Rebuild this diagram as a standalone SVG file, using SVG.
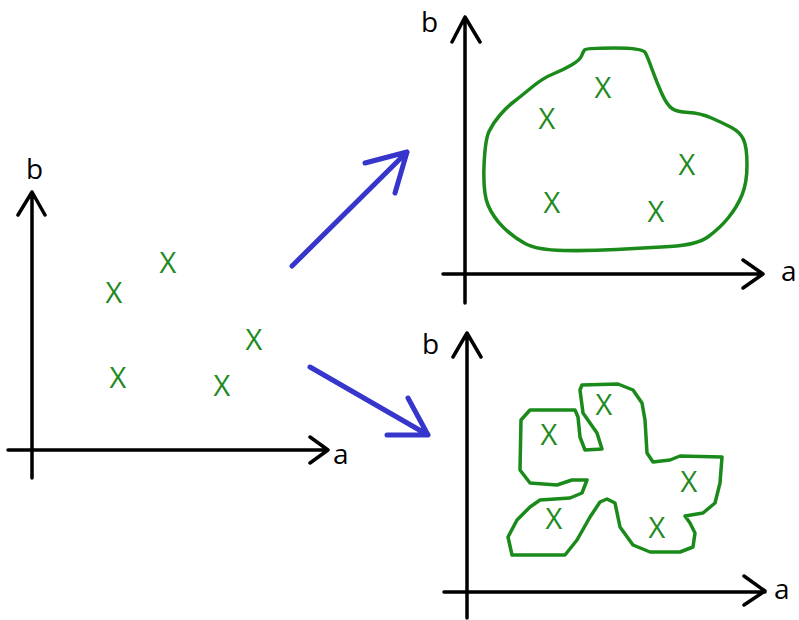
<svg xmlns="http://www.w3.org/2000/svg" width="799" height="620" viewBox="0 0 799 620">
<style>
.ax{fill:none;stroke:#000;stroke-width:3.5;stroke-linecap:round;stroke-linejoin:round}
.lbl{font-family:"Open Sans","Liberation Sans",sans-serif;font-size:28px;fill:#000}
.x{font-family:"Open Sans","Liberation Sans",sans-serif;font-size:29px;fill:#1f8a1f;text-anchor:middle}
.blob{fill:none;stroke:#1a8a1a;stroke-width:3.5;stroke-linejoin:round;stroke-linecap:round}
.arr{fill:none;stroke:#3636cc;stroke-width:5;stroke-linecap:round;stroke-linejoin:round}
</style>
<rect width="799" height="620" fill="#fff"/>
<g id="plot-left">
<path class="ax" d="M32 478V192M18 215L32 192L45 215M8 450H328M310 437L328 450L310 463"/>
<text class="lbl" x="26" y="179">b</text>
<text class="lbl" x="333" y="464">a</text>
<text class="x" x="114" y="303">X</text>
<text class="x" x="168" y="273">X</text>
<text class="x" x="118" y="388">X</text>
<text class="x" x="222" y="396">X</text>
<text class="x" x="254" y="350">X</text>
</g>
<g id="plot-top">
<path class="ax" d="M465 303V17M452 42L465 17L480 42M443 274H763M743 260L763 274L743 288"/>
<text class="lbl" x="421" y="32">b</text>
<text class="lbl" x="781" y="281">a</text>
<path class="blob" d="M584.5 50Q586 48 614.5 48Q643 48 645.5 53Q648 58 652.5 70.5Q657 83 662 94Q667 105 672 108.5Q677 112 688.5 112.5Q700 113 711.5 118Q723 123 731.5 127.5Q740 132 743.5 139.5Q747 147 747 165Q747 183 742 195Q737 207 728.5 217.5Q720 228 708.5 236.5Q697 245 670 246.5Q643 248 616.5 249.5Q590 251 563.5 250.5Q537 250 525 243.5Q513 237 503 227Q493 217 488 205Q483 193 484 166.5Q485 140 489 131.5Q493 123 500 115Q507 107 513.5 102Q520 97 531.5 87.5Q543 78 553 74Q563 70 571.5 65Q580 60 581.5 56Q583 52 584.5 50Z"/>
<text class="x" x="603" y="98">X</text>
<text class="x" x="547" y="129">X</text>
<text class="x" x="687" y="175">X</text>
<text class="x" x="552" y="213">X</text>
<text class="x" x="656" y="222">X</text>
</g>
<g id="plot-bottom">
<path class="ax" d="M467 618V333M453 357L467 333L481 357M444 592H765M744 576L765 591L744 605"/>
<text class="lbl" x="422" y="354">b</text>
<text class="lbl" x="774" y="599">a</text>
<path class="blob" d="M582 385L618 384L633 390L642 403L645 420L647 453L653 462L670 460L680 456L722 457L720 483L715 503L703 513L685 516L690 523L695 533L693 547L680 552L650 552L633 545L620 527L615 503L607 499L600 502L590 517L577 540L565 555L512 555L508 537L517 520L530 507L540 500L570 498L582 493L587 480L572 480L557 485L530 483L520 470L521 420L530 410L575 410L578 417L580 437L585 450L602 449L597 433L583 413L580 390Z"/>
<text class="x" x="604" y="415">X</text>
<text class="x" x="549" y="445">X</text>
<text class="x" x="689" y="492">X</text>
<text class="x" x="554" y="529">X</text>
<text class="x" x="657" y="538">X</text>
</g>
<g id="connectors">
<path class="arr" d="M292 266L407 152M365 163L407 152L395 193"/>
<path class="arr" d="M310 367L428 435M408 398L428 435L387 435"/>
</g>
</svg>
